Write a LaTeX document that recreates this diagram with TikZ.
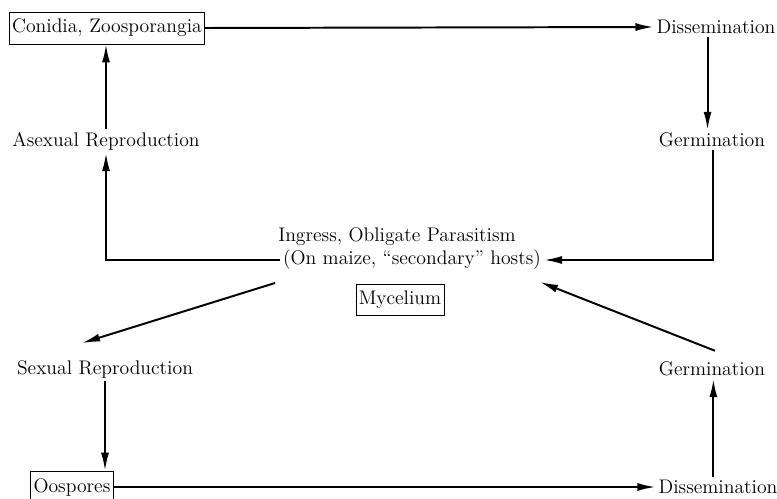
\documentclass[tikz,border=0pt]{standalone}
\usepackage{tikz}
\usetikzlibrary{arrows.meta,positioning}
\tikzset{
	stage/.style = {inner sep=2pt, font=\fontsize{14}{17}\selectfont},
	stagebox/.style = {stage, draw, line width=0.6pt, inner xsep=2pt, inner ysep=5pt},
	cyc/.style = {line width = 1.4pt, -{Latex[length=4.5mm, width=2mm]}}
}

\begin{document}
\begin{tikzpicture}[x=0.025cm, y=-0.025cm]
		\useasboundingbox (0,0) rectangle (777,499);
		\node [stagebox](conidia) at (107,28) {Conidia, Zoosporangia};
		\node [stage](dissTop) at (716,27) {Dissemination};
		\node [stage](germTop) at (712,140) {Germination};
		\node [stage](asexual) at (106,141) {Asexual Reproduction};
		\node [stage](ingress) at (397,237) {Ingress, Obligate Parasitism};
		\node [stage](hosts) at (412,260) {(On maize, ``secondary'' hosts)};
		\node [stagebox](mycel) at (400,300) {Mycelium};
		\node [stage](sexual) at (105,369) {Sexual Reproduction};
		\node [stage](germBot) at (712,369) {Germination};
		\node [stagebox](oospores) at (72,487) {Oospores};
		\node [stage](dissBot) at (718,487) {Dissemination};
		% upper (asexual) cycle
		\draw [cyc] (conidia.east) -- (dissTop.west);
		\draw [cyc] ([xshift=-6]dissTop.south) -- ([xshift=-6]dissTop.south |- germTop.north);
		\draw [cyc] (asexual.north) -- (asexual.north |- conidia.south);
		\draw [cyc] ([xshift=1]germTop.south) |- (hosts.east);
		\draw [cyc] (hosts.west) -| (asexual.south);
		% lower (sexual) cycle
		\draw [cyc] (275,283) -- ([shift={(-23,-14)}]sexual.north);
		\draw [cyc] ([shift={(3,-8)}]germBot.north) -- (540,282);
		\draw [cyc] (sexual.south) -- (oospores.north -| sexual.south);
		\draw [cyc] (oospores.east) -- (dissBot.west);
		\draw [cyc] ([xshift=1]germBot.south |- dissBot.north) -- ([xshift=1]germBot.south);
\end{tikzpicture}
\end{document}
